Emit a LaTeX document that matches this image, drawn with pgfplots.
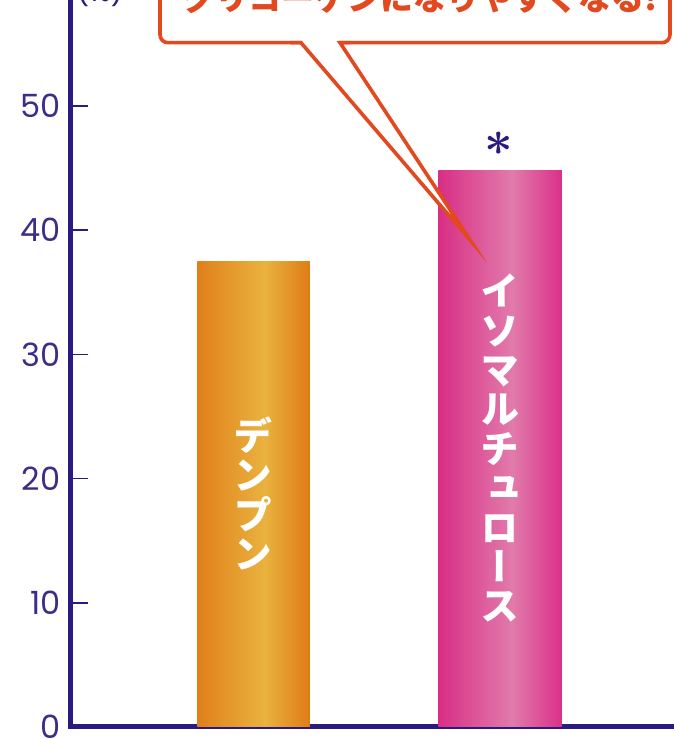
\documentclass[border=0pt]{standalone}
\usepackage{pgfplots}
\pgfplotsset{compat=1.18}
\usepackage{bm}
\usepackage{fontspec}
\setmainfont{Poppins}
\newfontfamily\cjk{Noto Sans CJK JP}
\newfontfamily\cjkv[RawFeature=+vert]{Noto Sans CJK JP}
\definecolor{navy}{HTML}{2A1B80}
\definecolor{ticknavy}{HTML}{3B2E88}
\definecolor{callred}{HTML}{E2491E}
\definecolor{oDark}{HTML}{E0801A}
\definecolor{oLight}{HTML}{E9B23E}
\definecolor{oRight}{HTML}{DF7C16}
\definecolor{pDark}{HTML}{D92E86}
\definecolor{pLight}{HTML}{E17BAB}
\definecolor{pRight}{HTML}{DA3089}
\pgfdeclarehorizontalshading{orangebar}{100bp}{color(0bp)=(oDark); color(25bp)=(oDark); color(55bp)=(oLight); color(75bp)=(oRight); color(100bp)=(oRight)}
\pgfdeclarehorizontalshading{pinkbar}{100bp}{color(0bp)=(pDark); color(25bp)=(pDark); color(55bp)=(pLight); color(75bp)=(pRight); color(100bp)=(pRight)}
\begin{document}
\begin{tikzpicture}
\begin{axis}[
  at={(35.25pt,6pt)}, anchor=south west,
  scale only axis,
  width=305pt, height=372.6pt,
  xmin=0, xmax=610, ymin=0, ymax=60,
  axis lines*=left,
  axis line style={navy, line width=2.5pt, line cap=rect},
  xtick=\empty,
  ytick={0,10,20,30,40,50},
  tick align=inside,
  major tick length=8.75pt,
  tick style={navy, line width=0.8pt},
  yticklabel style={text=ticknavy, font=\fontsize{16}{16}\selectfont, xshift=-1.5pt},
  /pgf/number format/assume math mode=true,
  clip=false,
]
\addplot[ybar, bar width=112.5, draw=none, shading=orangebar] coordinates {(183,37.5)};
\addplot[ybar, bar width=123.5, draw=none, shading=pinkbar] coordinates {(429.5,44.8)};
\node[text=white, font=\cjkv\bfseries\fontsize{19.5}{19.7}\selectfont, align=center] at (axis cs:182,18.8) {デ\\ン\\プ\\ン};
\node[text=white, font=\cjkv\bfseries\fontsize{19.5}{19.7}\selectfont, align=center] at (axis cs:429,22.45) {イ\\ソ\\マ\\ル\\チ\\ュ\\ロ\\ー\\ス};
\node[text=navy, font=\fontsize{40}{40}\selectfont] at (axis cs:428,47.0) {$\bm{\ast}$};
\end{axis}
\begin{scope}[shift={(0,369.5pt)}, x=0.5pt, y=-0.5pt]
  \draw[callred, line width=1.8pt, fill=white, rounded corners=4pt] (160,-80) rectangle (670,42.7);
  \fill[white] (301,42.7) -- (470,240) -- (340,42.7) -- cycle;
  \fill[white] (302,38) rectangle (339,46);
  \draw[callred, line width=1.8pt, line join=miter, miter limit=20] (290,42.7) -- (301,42.7) -- (470,240) -- (340,42.7) -- (350,42.7);
  \node[anchor=base, text=callred, font=\cjk\bfseries\fontsize{16.5}{16.5}\selectfont] at (420,11) {グリコーゲンになりやすくなる!};
  \node[text=navy, font=\fontsize{14}{14}\selectfont] at (100,-9) {(\%)};
\end{scope}
\pgfresetboundingbox
\useasboundingbox (0,0) rectangle (337pt,369.5pt);
\end{tikzpicture}
\end{document}
